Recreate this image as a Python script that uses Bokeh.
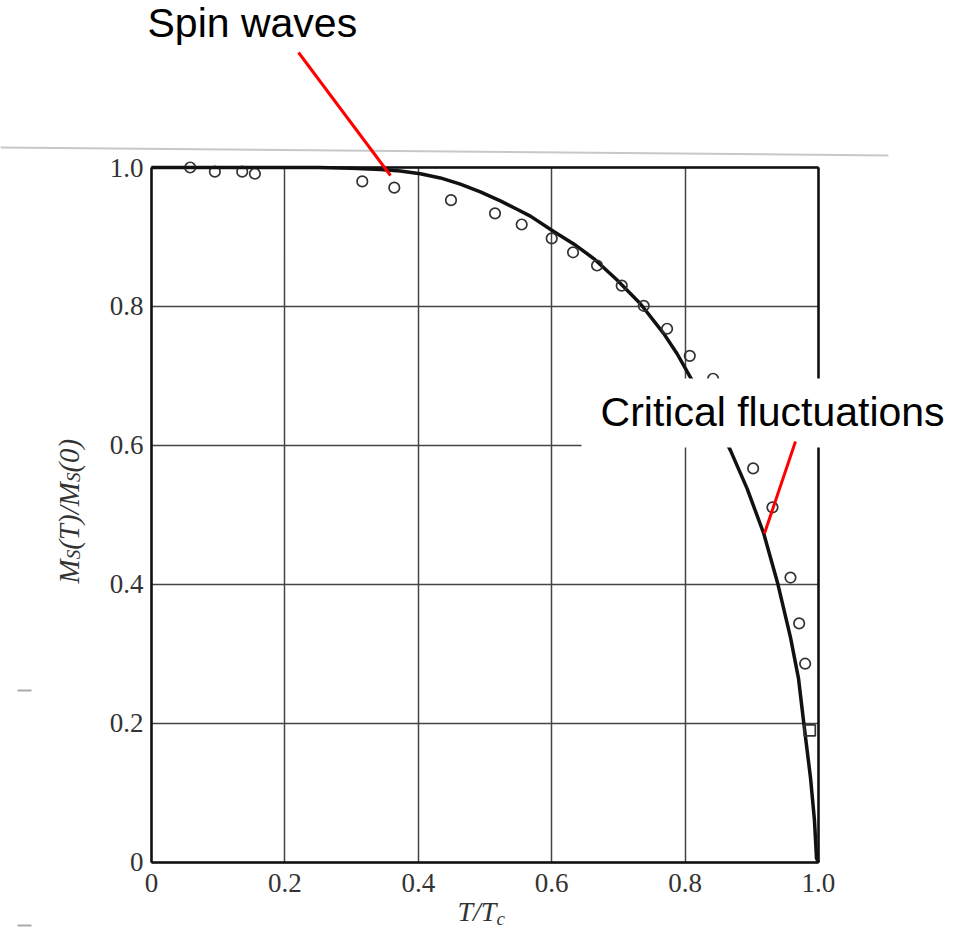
import math
from bokeh.plotting import figure
from bokeh.models import Range1d, FixedTicker, Label, Arrow, BoxAnnotation, LinearAxis
from bokeh.embed import file_html
from bokeh.resources import INLINE

# ---- data ----
tick_values = [0, 0.2, 0.4, 0.6, 0.8, 1.0]
tick_labels = ["0", "0.2", "0.4", "0.6", "0.8", "1.0"]

# theory curve
curve_x = [0.0, 0.1, 0.2, 0.25, 0.3, 0.343, 0.373, 0.403, 0.433, 0.463, 0.493, 0.523,
           0.548, 0.568, 0.603, 0.633, 0.663, 0.698, 0.733, 0.768, 0.788, 0.808, 0.838,
           0.868, 0.893, 0.918, 0.939, 0.958, 0.970, 0.978, 0.988, 0.994, 0.997, 1.0]
curve_y = [1.0, 1.0, 1.0, 1.0, 0.999, 0.997, 0.995, 0.991, 0.985, 0.976, 0.965, 0.952,
           0.940, 0.930, 0.908, 0.890, 0.869, 0.838, 0.804, 0.761, 0.732, 0.698, 0.650,
           0.593, 0.538, 0.473, 0.401, 0.324, 0.265, 0.200, 0.122, 0.060, 0.006, 0.0]

# measured points (circles)
meas_x = [0.058, 0.095, 0.136, 0.155, 0.316, 0.364, 0.449, 0.515, 0.555, 0.600, 0.632,
          0.668, 0.705, 0.738, 0.773, 0.807, 0.842, 0.902, 0.931, 0.958, 0.971, 0.980]
meas_y = [1.0, 0.994, 0.994, 0.991, 0.980, 0.971, 0.953, 0.934, 0.918, 0.898, 0.878,
          0.859, 0.830, 0.801, 0.768, 0.729, 0.696, 0.567, 0.511, 0.410, 0.344, 0.286]

# square point
sq_x = [0.987]
sq_y = [0.190]

AXIS_BOUNDS = (0, 1)

# ---- figure (frame covers the whole canvas; plot box drawn by axes at fixed locations) ----
p = figure(width=958, height=928, output_backend="svg", toolbar_location=None,
           x_range=Range1d(-0.2264, 1.2099), y_range=Range1d(-0.0950, 1.2403),
           min_border=0)
p.background_fill_color = "white"
p.border_fill_color = "white"
p.outline_line_color = None

for ax in (p.xaxis, p.yaxis):
    ax.fixed_location = 0
    ax.bounds = AXIS_BOUNDS
    ax.ticker = FixedTicker(ticks=tick_values)
    ax.major_label_overrides = {t: l for t, l in zip(tick_values, tick_labels)}
    ax.axis_line_color = "#111111"
    ax.axis_line_width = 2.5
    ax.major_tick_line_color = None
    ax.minor_tick_line_color = None
    ax.major_tick_in = 0
    ax.major_tick_out = 0
    ax.major_label_text_font = "Liberation Serif"
    ax.major_label_text_font_size = "27px"
    ax.major_label_text_color = "#333333"
p.xaxis.major_label_standoff = 12
p.yaxis.major_label_standoff = 8

for side in ("above", "right"):
    edge = LinearAxis(fixed_location=1, bounds=AXIS_BOUNDS, ticker=FixedTicker(ticks=[]),
                      axis_line_color="#111111", axis_line_width=2.5,
                      major_tick_line_color=None, minor_tick_line_color=None,
                      major_tick_in=0, major_tick_out=0,
                      major_label_text_font_size="0px")
    p.add_layout(edge, side)

for g in (p.xgrid, p.ygrid):
    g.ticker = FixedTicker(ticks=tick_values)
    g.cross_bounds = AXIS_BOUNDS
    g.bounds = AXIS_BOUNDS
    g.grid_line_color = "#444444"
    g.grid_line_width = 1.5

p.line(curve_x, curve_y, line_color="#111111", line_width=3.5, line_join="round")
p.scatter(meas_x, meas_y, marker="circle", size=10.5, fill_color=None,
          line_color="#333333", line_width=1.7)
p.scatter(sq_x, sq_y, marker="square", size=11, fill_color=None,
          line_color="#333333", line_width=1.7)

# scan artefacts: edge line at top and small marks at left
p.add_layout(Arrow(end=None, x_start=-0.2264, y_start=1.0288, x_end=1.1049, y_end=1.0173,
                   line_color="#c8c8c8", line_width=2))
p.add_layout(Arrow(end=None, x_start=-0.2009, y_start=0.2475, x_end=-0.1799, y_end=0.2475,
                   line_color="#aaaaaa", line_width=2))
p.add_layout(Arrow(end=None, x_start=-0.2009, y_start=-0.0907, x_end=-0.1799, y_end=-0.0907,
                   line_color="#aaaaaa", line_width=2))

# axis titles (built from pieces for subscripts)
serif = "Liberation Serif"
p.add_layout(Label(x=0.4588, y=-0.0705, text="T/T", text_font=serif, text_font_style="italic",
                   text_font_size="28px", text_color="#333333", text_baseline="alphabetic"))
p.add_layout(Label(x=0.5172, y=-0.0806, text="c", text_font=serif, text_font_style="italic",
                   text_font_size="19px", text_color="#333333", text_baseline="alphabetic"))

ang = math.pi / 2
ylab = [("M", -0.1244, 0.4014, "29px"), ("S", -0.1169, 0.4363, "19px"),
        ("(T)/M", -0.1244, 0.4499, "29px"), ("S", -0.1169, 0.5473, "19px"),
        ("(0)", -0.1244, 0.561, "29px")]
for t, xx, yy, fs in ylab:
    p.add_layout(Label(x=xx, y=yy, text=t, angle=ang, text_font=serif, text_font_style="italic",
                       text_font_size=fs, text_color="#333333", text_baseline="alphabetic",
                       text_align="left"))

# annotations
p.add_layout(Label(x=-0.006, y=1.2086, text="Spin waves", text_font="Liberation Sans",
                   text_font_size="41px", text_color="black", text_baseline="alphabetic"))
p.add_layout(Arrow(end=None, x_start=0.2204, y_start=1.1655, x_end=0.3583, y_end=0.9885,
                   line_color="red", line_width=3))

p.add_layout(BoxAnnotation(left=0.6447, right=1.183, bottom=0.5971, top=0.6964,
                           fill_color="white", fill_alpha=1.0, line_color=None, level="overlay"))
p.add_layout(Label(x=0.6732, y=0.6475, text="Critical fluctuations", text_font="Liberation Sans",
                   text_font_size="41px", text_color="black", text_baseline="alphabetic",
                   level="overlay"))
p.add_layout(Arrow(end=None, x_start=0.9655, y_start=0.6058, x_end=0.919, y_end=0.4734,
                   line_color="red", line_width=3, level="overlay"))

open("out.html", "w").write(file_html(p, INLINE))
